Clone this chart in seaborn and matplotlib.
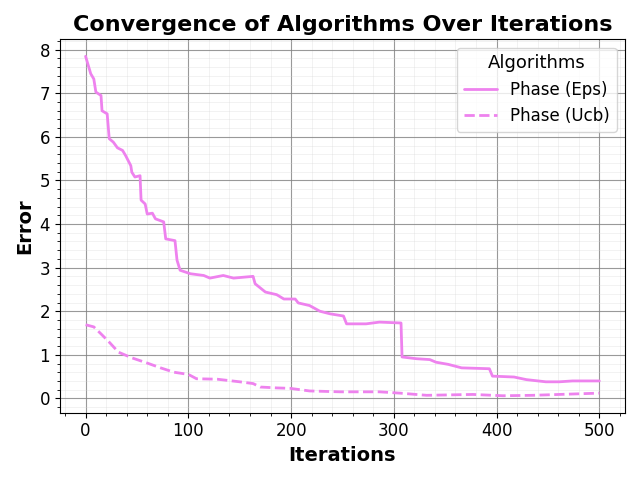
import matplotlib
matplotlib.use("Agg")
import matplotlib.pyplot as plt
import seaborn as sns
import pandas as pd

eps_iter = [0, 5, 8, 10, 15, 16, 21, 23, 27, 31, 36, 39, 44, 45, 48, 53, 54, 58, 60, 65, 68, 76, 78,
            87, 89, 92, 102, 115, 121, 134, 144, 163, 165, 175, 186, 193, 204, 207, 218, 228, 238,
            251, 254, 273, 286, 307, 308, 322, 335, 341, 353, 366, 393, 396, 417, 429, 448, 461, 474, 500]
eps_err = [7.85, 7.45, 7.33, 7.03, 6.95, 6.6, 6.53, 5.96, 5.88, 5.75, 5.69, 5.57, 5.34, 5.19, 5.08, 5.11,
           4.55, 4.46, 4.23, 4.25, 4.12, 4.05, 3.66, 3.62, 3.17, 2.94, 2.86, 2.82, 2.76, 2.82, 2.76,
           2.80, 2.63, 2.44, 2.38, 2.28, 2.28, 2.19, 2.13, 2.00, 1.94, 1.89, 1.71, 1.71, 1.75, 1.73,
           0.95, 0.91, 0.89, 0.83, 0.78, 0.70, 0.68, 0.51, 0.49, 0.43, 0.38, 0.38, 0.40, 0.40]

ucb_iter = [0, 8, 15, 23, 32, 45, 60, 73, 86, 100, 108, 128, 150, 163, 170, 186, 199, 218, 248, 286,
            306, 332, 377, 406, 435, 461, 487, 500]
ucb_err = [1.69, 1.64, 1.48, 1.29, 1.06, 0.93, 0.81, 0.70, 0.60, 0.55, 0.45, 0.44, 0.38, 0.34, 0.26,
           0.24, 0.23, 0.17, 0.15, 0.15, 0.12, 0.07, 0.09, 0.06, 0.07, 0.09, 0.11, 0.12]

labels = ["Phase (Eps)", "Phase (Ucb)"]

df = pd.concat([
    pd.DataFrame({"Iterations": eps_iter, "Error": eps_err, "Algorithm": labels[0]}),
    pd.DataFrame({"Iterations": ucb_iter, "Error": ucb_err, "Algorithm": labels[1]}),
])

sns.set_style("ticks")
plt.rcParams.update({
    "text.color": "black", "axes.labelcolor": "black", "xtick.color": "black",
    "ytick.color": "black", "axes.edgecolor": "black",
})
fig, ax = plt.subplots(figsize=(6.4, 4.8), dpi=100)
sns.lineplot(data=df, x="Iterations", y="Error", hue="Algorithm", style="Algorithm",
             palette=["violet", "violet"], dashes=["", (3.7, 1.6)],
             linewidth=2, ax=ax, estimator=None, sort=False)

ax.minorticks_on()
ax.grid(which="major", color="gray", linewidth=0.8, alpha=0.8)
ax.grid(which="minor", color="lightgray", linewidth=0.5, alpha=0.4)
ax.set_axisbelow(True)
ax.tick_params(axis="both", which="major", labelsize=12)
ax.set_title("Convergence of Algorithms Over Iterations", fontsize=16, fontweight="bold")
ax.set_xlabel("Iterations", fontsize=14, fontweight="bold")
ax.set_ylabel("Error", fontsize=14, fontweight="bold")
ax.set_xticks([0, 100, 200, 300, 400, 500])
ax.set_yticks(range(0, 9))
ax.legend(title="Algorithms", fontsize=12, title_fontsize=13, loc="upper right")
fig.tight_layout()
fig.savefig("out.png", dpi=100)
